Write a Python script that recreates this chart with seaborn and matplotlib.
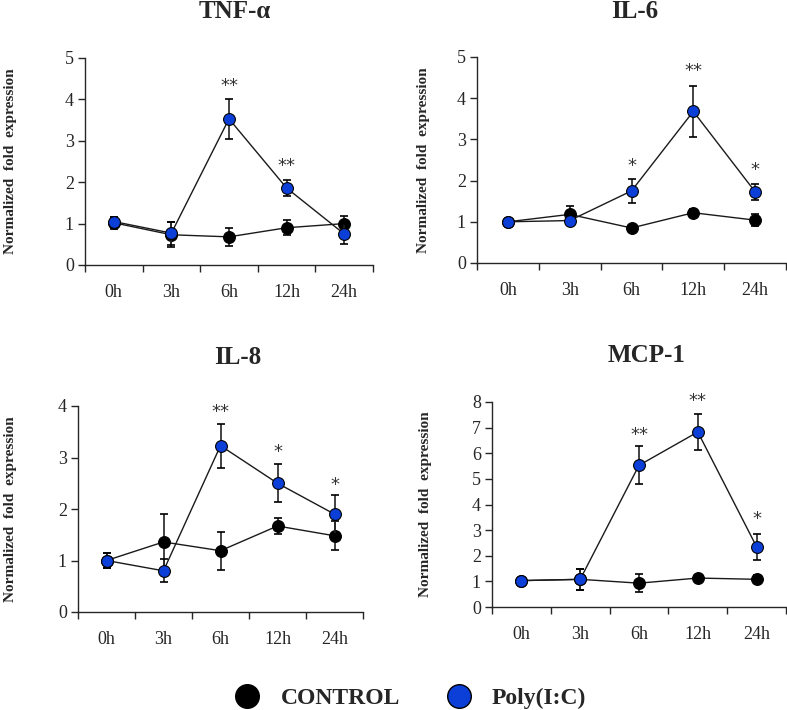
import numpy as np
import pandas as pd
import matplotlib
matplotlib.use("Agg")
import matplotlib.pyplot as plt
import seaborn as sns
from matplotlib.lines import Line2D

sns.set_style("ticks")
plt.rcParams['font.family'] = ['Liberation Serif', 'DejaVu Serif']

times = ["0h", "3h", "6h", "12h", "24h"]
groups = ["CONTROL", "Poly(I:C)"]

titles = ["TNF-α", "IL-6", "IL-8", "MCP-1"]

tnf_ctrl = [1.02, 0.73, 0.68, 0.90, 1.00]
tnf_ctrl_err = [0.15, 0.30, 0.22, 0.18, 0.18]
tnf_poly = [1.05, 0.77, 3.53, 1.86, 0.75]
tnf_poly_err = [0.10, 0.28, 0.48, 0.20, 0.25]
tnf_stars = ["", "", "**", "**", ""]
tnf_star_y = [0, 0, 4.32, 2.40, 0]

il6_ctrl = [1.00, 1.18, 0.85, 1.22, 1.04]
il6_ctrl_err = [0.05, 0.20, 0.06, 0.10, 0.15]
il6_poly = [1.00, 1.03, 1.75, 3.68, 1.73]
il6_poly_err = [0.05, 0.08, 0.30, 0.62, 0.19]
il6_stars = ["", "", "*", "**", "*"]
il6_star_y = [0, 0, 2.36, 4.66, 2.25]

il8_ctrl = [1.00, 1.36, 1.19, 1.67, 1.48]
il8_ctrl_err = [0.15, 0.55, 0.37, 0.16, 0.28]
il8_poly = [1.00, 0.80, 3.23, 2.50, 1.90]
il8_poly_err = [0.15, 0.22, 0.43, 0.37, 0.38]
il8_stars = ["", "", "**", "*", "*"]
il8_star_y = [0, 0, 3.88, 3.10, 2.46]

mcp_ctrl = [1.03, 1.08, 0.93, 1.13, 1.08]
mcp_ctrl_err = [0.08, 0.40, 0.36, 0.10, 0.16]
mcp_poly = [1.03, 1.08, 5.53, 6.83, 2.35]
mcp_poly_err = [0.08, 0.42, 0.74, 0.70, 0.50]
mcp_stars = ["", "", "**", "**", "*"]
mcp_star_y = [0, 0, 6.72, 8.05, 3.42]

panels = [
    (tnf_ctrl, tnf_ctrl_err, tnf_poly, tnf_poly_err, tnf_stars, tnf_star_y, 5),
    (il6_ctrl, il6_ctrl_err, il6_poly, il6_poly_err, il6_stars, il6_star_y, 5),
    (il8_ctrl, il8_ctrl_err, il8_poly, il8_poly_err, il8_stars, il8_star_y, 4),
    (mcp_ctrl, mcp_ctrl_err, mcp_poly, mcp_poly_err, mcp_stars, mcp_star_y, 8),
]

W, H = 787, 710
# axes rects in pixels: left, right, y0 (bottom), ytop
rects_px = [
    (85, 373, 265, 58),
    (477, 786, 263, 57),
    (78, 363, 612, 406),
    (492, 786, 607, 402),
]
ylabel_x_px = [17, 430, 17, 432]
titles_pos = [(235, 11), (635, 12), (238, 358), (647, 355)]

colors = {"CONTROL": "black", "Poly(I:C)": "#0b3fd8"}

fig = plt.figure(figsize=(W / 100, H / 100), dpi=100)

for (ctrl, cerr, poly, perr, stars, stary, ymax), (l, r, b, t), lx, title, (tx, ty) in zip(
        panels, rects_px, ylabel_x_px, titles, titles_pos):
    ax = fig.add_axes([l / W, 1 - b / H, (r - l) / W, (b - t) / H])
    xi = np.arange(len(times))
    df = pd.DataFrame({
        "x": np.concatenate([xi, xi]),
        "value": list(ctrl) + list(poly),
        "err": list(cerr) + list(perr),
        "group": [groups[0]] * len(times) + [groups[1]] * len(times),
    })
    for gi, g in enumerate(groups):
        sub = df[df["group"] == g]
        ax.errorbar(sub["x"], sub["value"], yerr=sub["err"], fmt="none",
                    ecolor="#222222", elinewidth=1.2, capsize=3, capthick=1.2,
                    zorder=2 + gi * 2)
    sns.lineplot(data=df, x="x", y="value", hue="group", palette=colors,
                 hue_order=groups, marker="o", markersize=8.5,
                 markeredgecolor="black", markeredgewidth=0.8,
                 linewidth=1.0, legend=False, ax=ax,
                 errorbar=None, sort=False)
    lines = ax.get_lines()
    for line in lines:
        line.set_color("#1a1a1a")
        line.set_markeredgecolor("black")
    lines[-2].set_zorder(3)
    lines[-1].set_zorder(5)
    lines[-2].set_markerfacecolor(colors["CONTROL"])
    lines[-1].set_markerfacecolor(colors["Poly(I:C)"])

    for i, (s, sy) in enumerate(zip(stars, stary)):
        if s:
            ax.text(i, sy, s, ha="center", va="center", fontsize=13,
                    color="#333333", family="DejaVu Sans")

    ax.set_xlim(-0.5, len(times) - 0.5)
    ax.set_ylim(0, ymax)
    ax.set_yticks(np.arange(0, ymax + 1, 1))
    ax.set_xticks(xi)
    ax.set_xticklabels(times, fontsize=13)
    ax.tick_params(axis="x", which="major", length=0, pad=14)
    ax.set_xticks(np.arange(-0.5, len(times), 1), minor=True)
    ax.tick_params(axis="x", which="minor", length=5, width=1, direction="out")
    ax.tick_params(axis="y", length=5, width=1, labelsize=13, direction="out", pad=3)
    ax.set_xlabel("")
    ax.set_ylabel("Normalized  fold  expression", fontsize=11, fontweight="bold")
    ax.yaxis.set_label_coords((lx - l) / (r - l), 0.5)
    for sp in ["top", "right"]:
        ax.spines[sp].set_visible(False)
    for sp in ["left", "bottom"]:
        ax.spines[sp].set_linewidth(1.0)
    fig.text(tx / W, 1 - ty / H, title, ha="center", va="center",
             fontsize=18, fontweight="bold")

handles = [Line2D([], [], marker="o", linestyle="", markersize=17,
                  markerfacecolor=colors[g], markeredgecolor="black",
                  markeredgewidth=1) for g in groups]
leg = fig.legend(handles, groups, loc="center", bbox_to_anchor=(405 / W, 1 - 698 / H),
                 ncol=2, frameon=False, columnspacing=1.5, handletextpad=0.4,
                 prop={"family": "Liberation Serif", "weight": "bold", "size": 17})

fig.savefig("out.png", dpi=100)
